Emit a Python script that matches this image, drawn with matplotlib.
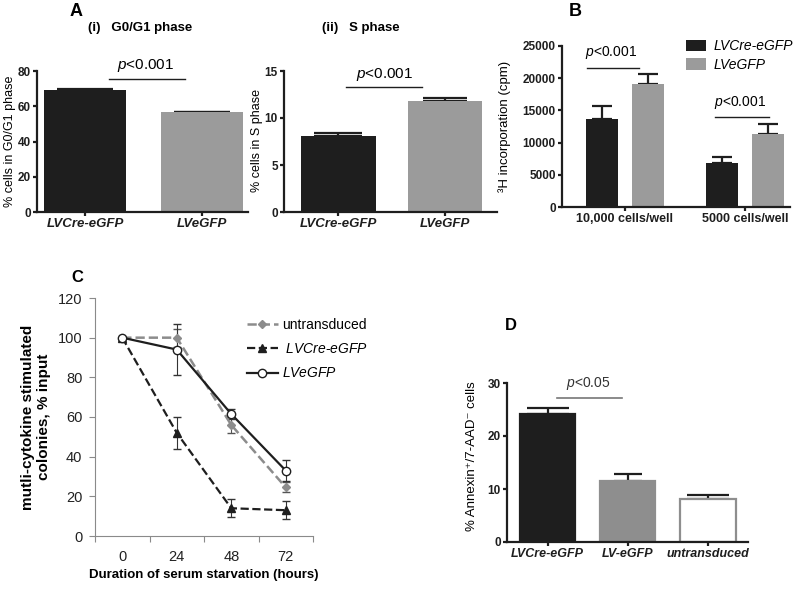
import matplotlib
matplotlib.use("Agg")
import matplotlib.pyplot as plt
import numpy as np

plt.rcParams['font.family'] = ['Liberation Sans', 'DejaVu Sans']
plt.rcParams['mathtext.fontset'] = 'custom'
plt.rcParams['mathtext.rm'] = 'Liberation Sans'
plt.rcParams['mathtext.it'] = 'Liberation Sans:italic'
plt.rcParams['mathtext.bf'] = 'Liberation Sans:bold'

BLACK = "#1e1e1e"
GREY = "#9b9b9b"

# --- data ---
a_groups = ["LVCre-eGFP", "LVeGFP"]
g1_vals = [69.4, 56.6]
g1_err = [0.4, 0.4]
s_vals = [8.1, 11.85]
s_err = [0.3, 0.25]

b_groups = ["10,000 cells/well", "5000 cells/well"]
b_cre = [13600, 6900]
b_cre_err = [2100, 800]
b_gfp = [19100, 11400]
b_gfp_err = [1500, 1500]

c_hours = ["0", "24", "48", "72"]
c_untrans = [100, 100, 56, 24.5]
c_untrans_err = [0, 4.5, 4, 2.5]
c_cre = [100, 52, 14, 13]
c_cre_err = [0, 8, 4.5, 4.5]
c_gfp = [100, 94, 61.5, 33]
c_gfp_err = [0, 13, 2.5, 5.5]

d_groups = ["LVCre-eGFP", "LV-eGFP", "untransduced"]
d_vals = [24.2, 11.5, 8.1]
d_err = [1.1, 1.4, 0.8]

W, H = 800, 589


def fx(x):
    return x / W


def fy(y):
    return 1 - y / H


def box(x0, y0, x1, y1):
    return [fx(x0), fy(y1), fx(x1) - fx(x0), fy(y0) - fy(y1)]


def prism_axes(ax, lw=1.6):
    for s in ("top", "right"):
        ax.spines[s].set_visible(False)
    for s in ("left", "bottom"):
        ax.spines[s].set_linewidth(lw)
        ax.spines[s].set_color(BLACK)
    ax.tick_params(direction="out", length=3, width=lw, colors=BLACK, pad=1.5)
    for lab in ax.get_yticklabels():
        lab.set_fontweight("bold")
        lab.set_fontsize(8.5)


def up_err(ax, x, y, e, cap):
    ax.errorbar([x], [y], yerr=[[0], [e]], fmt="none", ecolor=BLACK,
                elinewidth=1.6, capsize=cap, capthick=1.6, zorder=1)


fig = plt.figure(figsize=(8, 5.89), dpi=100)

# --- A(i) ---
ax1 = fig.add_axes(box(37, 71, 248, 212))
x = np.arange(len(a_groups))
ax1.bar(x, g1_vals, width=0.7, color=[BLACK, GREY], zorder=2)
for i in x:
    up_err(ax1, i, g1_vals[i], g1_err[i], 20)
ax1.set_xlim(-0.41, 1.39)
ax1.set_ylim(0, 80)
ax1.set_yticks([0, 20, 40, 60, 80])
ax1.set_xticks(x)
ax1.set_xticklabels(a_groups, fontsize=9.5, fontweight="bold", style="italic")
prism_axes(ax1)
ax1.plot([0.2, 0.85], [75.5, 75.5], color=BLACK, lw=1, clip_on=False)
ax1.text(0.52, 78.5, "$p$<0.001", ha="center", va="bottom", fontsize=11)
fig.text(fx(10), fy(141), "% cells in G0/G1 phase", rotation=90,
         ha="center", va="center", fontsize=9)

# --- A(ii) ---
ax2 = fig.add_axes(box(284, 71, 497, 212))
ax2.bar(x, s_vals, width=0.7, color=[BLACK, GREY], zorder=2)
caps = [17, 16]
for i in x:
    up_err(ax2, i, s_vals[i], s_err[i], caps[i])
ax2.set_xlim(-0.51, 1.49)
ax2.set_ylim(0, 15)
ax2.set_yticks([0, 5, 10, 15])
ax2.set_xticks(x)
ax2.set_xticklabels(a_groups, fontsize=9.5, fontweight="bold", style="italic")
prism_axes(ax2)
ax2.plot([0.07, 0.79], [13.3, 13.3], color=BLACK, lw=1, clip_on=False)
ax2.text(0.43, 13.75, "$p$<0.001", ha="center", va="bottom", fontsize=11)
fig.text(fx(257), fy(141), "% cells in S phase", rotation=90,
         ha="center", va="center", fontsize=9)

fig.text(fx(76), fy(12), "A", ha="center", va="center", fontsize=13, fontweight="bold")
fig.text(fx(88), fy(28), "(i)   G0/G1 phase", ha="left", va="center",
         fontsize=9.5, fontweight="bold")
fig.text(fx(322), fy(28), "(ii)   S phase", ha="left", va="center",
         fontsize=9.5, fontweight="bold")

# --- B ---
ax3 = fig.add_axes(box(562, 46, 790, 207))
xb = np.arange(len(b_groups))
off, bw = 0.19, 0.27
ax3.bar(xb - off, b_cre, width=bw, color=BLACK, label="LVCre-eGFP", zorder=2)
ax3.bar(xb + off, b_gfp, width=bw, color=GREY, label="LVeGFP", zorder=2)
for i in xb:
    up_err(ax3, i - off, b_cre[i], b_cre_err[i], 7)
    up_err(ax3, i + off, b_gfp[i], b_gfp_err[i], 7)
ax3.set_xlim(-0.525, 1.375)
ax3.set_ylim(0, 25000)
ax3.set_yticks(range(0, 25001, 5000))
ax3.set_xticks(xb)
ax3.set_xticklabels(b_groups, fontsize=9, fontweight="bold")
prism_axes(ax3)
ax3.plot([-0.32, 0.12], [21600, 21600], color=BLACK, lw=1)
ax3.text(-0.33, 22600, "$p$<0.001", ha="left", va="bottom", fontsize=10)
ax3.plot([0.75, 1.2], [13900, 13900], color=BLACK, lw=1)
ax3.text(0.74, 14900, "$p$<0.001", ha="left", va="bottom", fontsize=10)
leg = ax3.legend(loc="upper left", bbox_to_anchor=(0.49, 1.12), frameon=False,
                 prop={"size": 10, "style": "italic"}, handlelength=1.4,
                 handleheight=0.9, labelspacing=0.35, handletextpad=0.6)
fig.text(fx(505), fy(126), "³H incorporation (cpm)", rotation=90,
         ha="center", va="center", fontsize=9.5)
fig.text(fx(575), fy(12), "B", ha="center", va="center", fontsize=13, fontweight="bold")

# --- C ---
ax4 = fig.add_axes(box(95, 298, 313, 536))
xc = np.arange(len(c_hours))
series = [
    (c_untrans, c_untrans_err, "#8c8c8c", "--", 1.8, "D", 4.5, "#8c8c8c", "#555555", "untransduced"),
    (c_cre, c_cre_err, BLACK, "--", 1.6, "^", 6, BLACK, "#333333", " $LVCre$-$eGFP$"),
    (c_gfp, c_gfp_err, BLACK, "-", 1.6, "o", 6, "white", "#333333", "$LVeGFP$"),
]
for vals, errs, col, ls, lw, mk, ms, mfc, ecol, lab in series:
    ax4.errorbar(xc, vals, yerr=errs, fmt="none", ecolor=ecol,
                 elinewidth=0.8, capsize=3, zorder=2)
    ax4.plot(xc, vals, color=col, ls=ls, lw=lw, marker=mk, ms=ms, mfc=mfc,
             mec=col, label=lab, zorder=3)
ax4.set_xlim(-0.5, 3.5)
ax4.set_ylim(0, 120)
ax4.set_yticks(range(0, 121, 20))
ax4.set_xticks(np.arange(-0.5, 3.6, 1.0))
ax4.set_xticklabels([])
ax4.set_xticks(xc, minor=True)
ax4.set_xticklabels(c_hours, minor=True)
ax4.tick_params(axis="x", which="minor", length=0, pad=10, labelsize=10.5,
                labelcolor="#222222")
for s in ("top", "right"):
    ax4.spines[s].set_visible(False)
for s in ("left", "bottom"):
    ax4.spines[s].set_color("#8a8a8a")
    ax4.spines[s].set_linewidth(0.8)
ax4.tick_params(axis="y", direction="out", length=4, width=0.8, color="#8a8a8a",
                labelsize=10.5, labelcolor="#222222", pad=5)
ax4.tick_params(axis="x", which="major", direction="out", length=4, width=0.8,
                color="#8a8a8a")
ax4.legend(loc="upper left", bbox_to_anchor=(0.64, 0.97), frameon=False,
           fontsize=10, handlelength=2.2, labelspacing=0.75, handletextpad=0.3)
ax4.set_xlabel("Duration of serum starvation (hours)", fontsize=9.5,
               fontweight="bold", labelpad=4)
fig.text(fx(36), fy(417), "mutli-cytokine stimulated\ncolonies, % input",
         rotation=90, ha="center", va="center", fontsize=11, fontweight="bold",
         linespacing=1.1)
fig.text(fx(77), fy(277), "C", ha="center", va="center", fontsize=12, fontweight="bold")

# --- D ---
ax5 = fig.add_axes(box(507, 383, 748, 542))
xd = np.arange(len(d_groups))
ax5.bar(xd, d_vals, width=0.69, color=[BLACK, "#8e8e8e", "white"],
        edgecolor=[BLACK, "#8e8e8e", "#8e8e8e"], linewidth=1.6, zorder=2)
d_caps = [15, 10, 15]
for i in xd:
    up_err(ax5, i, d_vals[i], d_err[i], d_caps[i])
ax5.set_xlim(-0.506, 2.5)
ax5.set_ylim(0, 30)
ax5.set_yticks([0, 10, 20, 30])
ax5.set_xticks(xd)
ax5.set_xticklabels(d_groups, fontsize=9, fontweight="bold", style="italic")
prism_axes(ax5)
ax5.plot([0.12, 0.93], [27.2, 27.2], color="#777777", lw=1.2)
ax5.text(0.51, 28.3, "$p$<0.05", ha="center", va="bottom", fontsize=10, color="#333333")
fig.text(fx(472), fy(456), "% Annexin⁺/7-AAD⁻ cells", rotation=90,
         ha="center", va="center", fontsize=9.5)
fig.text(fx(511), fy(326), "D", ha="center", va="center", fontsize=12, fontweight="bold")

fig.savefig("out.png", dpi=100, facecolor="white")
